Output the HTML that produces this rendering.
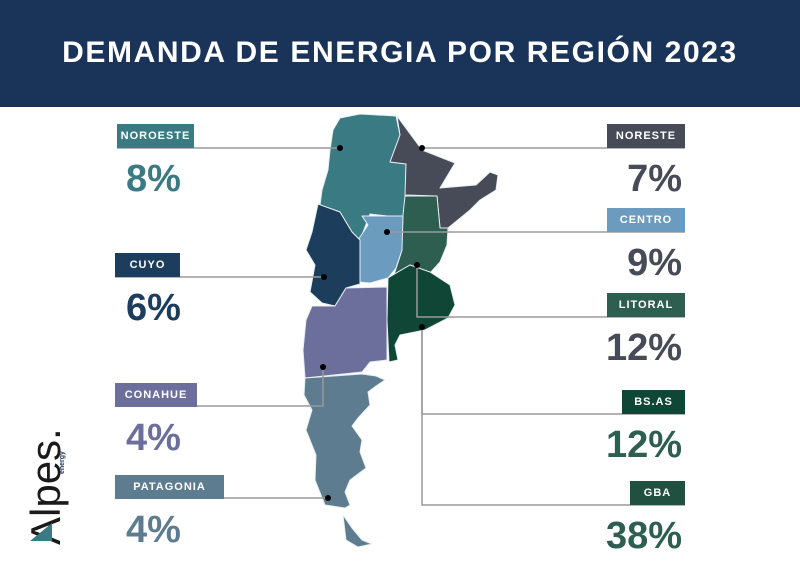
<!DOCTYPE html>
<html><head><meta charset="utf-8"><style>
*{margin:0;padding:0;box-sizing:border-box}
body{width:800px;height:562px;background:#fff;position:relative;overflow:hidden;font-family:"Liberation Sans",sans-serif}
.hdr{position:absolute;left:0;top:0;width:800px;height:107px;background:#1a3358;color:#fff;font-weight:bold;font-size:30px;text-align:center;line-height:106px;letter-spacing:1.6px}
.box{position:absolute;height:24px;color:#fff;font-weight:bold;font-size:11px;letter-spacing:1px;line-height:24px;text-align:center}
.pct{position:absolute;font-weight:bold;font-size:38px;line-height:38px}
svg{position:absolute;left:0;top:0}
</style></head><body>
<div class="hdr">DEMANDA DE ENERGIA POR REGIÓN 2023</div>
<svg width="800" height="562">
<g stroke="#e8eef0" stroke-width="1" stroke-linejoin="round">
<polygon fill="#3a7a82" points="340,118 360,114 396,116 400,135 390,162 406,164 405,218 370,214 360,240 352,232 340,212 320,205 322,190 328,170 330,150 333,130"/>
<polygon fill="#464b57" points="397,116 422,150 455,163 440,188 476,185 490,172 498,175 496,190 480,200 470,210 448,228 440,228 437,196 405,195 406,164 390,162 400,135"/>
<polygon fill="#2d5e50" points="405,196 437,196 440,228 448,228 447,245 440,262 430,273 410,265 398,272 394,275 402,250 402,235 403,215"/>
<polygon fill="#6b9bbf" points="362,216 403,216 402,250 396,268 388,278 370,283 360,282 358,240 368,225"/>
<polygon fill="#1c3d5c" points="318,204 340,212 352,232 360,240 360,284 346,288 335,306 322,303 310,292 315,265 306,250 312,232"/>
<polygon fill="#0f4636" points="388,278 398,272 410,265 430,272 450,285 455,305 448,318 425,330 400,335 395,345 398,360 389,362 387,320"/>
<polygon fill="#6c6e9b" points="335,306 346,288 387,287 387,360 370,362 362,372 305,378 303,350 306,320 312,306"/>
<polygon fill="#5d7c8f" points="305,378 362,374 376,376 385,380 376,386 368,392 370,405 358,418 352,426 362,440 360,452 366,468 350,480 345,492 350,505 345,508 325,505 315,480 316,455 306,430 312,410 304,395"/>
<polygon fill="#5d7c8f" points="343,515 346,540 358,547 372,544 362,540 352,528"/>
</g>
<g stroke="#9a9a9a" stroke-width="1.5" fill="none">
<polyline points="117,148 340,148"/>
<polyline points="422,148 685,148"/>
<polyline points="387,232 685,232"/>
<polyline points="115,277 324,277"/>
<polyline points="417,265 417,317 685,317"/>
<polyline points="422,327 422,414 685,414"/>
<polyline points="422,327 422,505 685,505"/>
<polyline points="323,367 323,406 115,406"/>
<polyline points="115,498 328,498"/>
</g>
<g fill="#000">
<circle cx="340" cy="148" r="3"/><circle cx="422" cy="148" r="3"/><circle cx="387" cy="232" r="3"/>
<circle cx="324" cy="277" r="3"/><circle cx="417" cy="265" r="3"/><circle cx="422" cy="327" r="3"/>
<circle cx="323" cy="367" r="3"/><circle cx="328" cy="498" r="3"/>
</g>
<text transform="translate(60,545) rotate(-90)" font-family="Liberation Sans,sans-serif" font-size="42" fill="#1a1a1a">Alpes.</text>
<text transform="translate(64,474) rotate(-90)" font-family="Liberation Sans,sans-serif" font-size="7" font-weight="bold" fill="#1a3358">energy</text>
<polygon points="30,541 52,541 52,523" fill="#3a7a82"/>
</svg>
<div class="box" style="left:117px;top:124px;width:77px;background:#3a7a82">NOROESTE</div>
<div class="pct" style="left:126px;top:160px;color:#3a7a82">8%</div>
<div class="box" style="left:607px;top:124px;width:78px;background:#464b57">NORESTE</div>
<div class="pct" style="right:118px;top:160px;color:#464b57">7%</div>
<div class="box" style="left:607px;top:208px;width:78px;background:#6b9bbf">CENTRO</div>
<div class="pct" style="right:118px;top:244px;color:#464b57">9%</div>
<div class="box" style="left:115px;top:253px;width:65px;background:#1c3d5c">CUYO</div>
<div class="pct" style="left:126px;top:289px;color:#1c3d5c">6%</div>
<div class="box" style="left:607px;top:293px;width:78px;background:#2d5e50">LITORAL</div>
<div class="pct" style="right:118px;top:329px;color:#464b57">12%</div>
<div class="box" style="left:115px;top:383px;width:82px;background:#6c6e9b">CONAHUE</div>
<div class="pct" style="left:126px;top:419px;color:#6c6e9b">4%</div>
<div class="box" style="left:622px;top:390px;width:63px;background:#0f4636">BS.AS</div>
<div class="pct" style="right:118px;top:426px;color:#2d5e50">12%</div>
<div class="box" style="left:115px;top:475px;width:109px;background:#5d7c8f">PATAGONIA</div>
<div class="pct" style="left:126px;top:511px;color:#5d7c8f">4%</div>
<div class="box" style="left:630px;top:481px;width:55px;background:#1f5040">GBA</div>
<div class="pct" style="right:118px;top:517px;color:#2d5e50">38%</div>
</body></html>
